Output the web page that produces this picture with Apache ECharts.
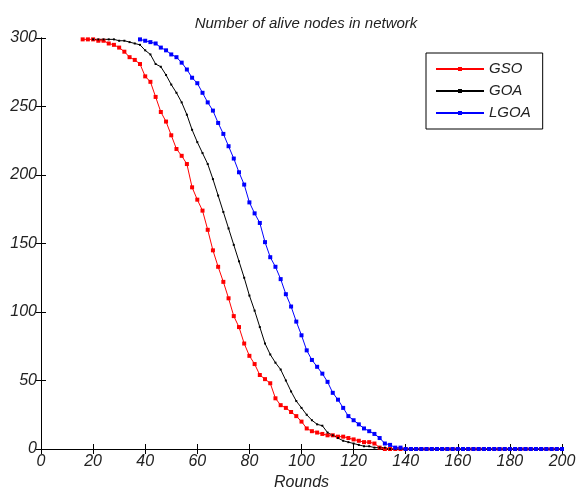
<!DOCTYPE html>
<html>
<head>
<meta charset="utf-8">
<script src="https://cdn.jsdelivr.net/npm/echarts@6/dist/echarts.min.js"></script>
<style>
html, body { margin: 0; padding: 0; background: #fff; }
#container { width: 576px; height: 489px; }
</style>
</head>
<body>
<div id="container"></div>
<script>
// rounds, every 2 rounds
var rounds = [0,2,4,6,8,10,12,14,16,18,20,22,24,26,28,30,32,34,36,38,
  40,42,44,46,48,50,52,54,56,58,60,62,64,66,68,70,72,74,76,78,
  80,82,84,86,88,90,92,94,96,98,100,102,104,106,108,110,112,114,116,118,
  120,122,124,126,128,130,132,134,136,138,140,142,144,146,148,150,152,154,156,158,
  160,162,164,166,168,170,172,174,176,178,180,182,184,186,188,190,192,194,196,198,200];

// alive nodes (null = hidden under the top border at 300)
var gso = [null,null,null,null,null,null,null,null,
  299,299,299,298,298,296,295,293,290,286,284,281,272,268,257,246,239,229,219,214,208,191,
  182,174,160,145,133,122,110,97,89,77,68,62,54,51,48,37,32,30,27,24,
  20,15,13,12,11,10,10,9,9,8,7,6,5,5,4,1,
  0,0,0,0,0,0,0,0,0,0, 0,0,0,0,0,0,0,0,0,0, 0,0,0,0,0,0,0,0,0,0, 0,0,0,0,0];
var goa = [null,null,null,null,null,null,null,null,null,null,
  299,299,299,299,299,298,298,297,296,295,291,288,281,279,273,266,260,253,244,233,
  224,216,208,197,185,173,161,149,137,125,112,101,89,77,69,63,58,50,42,35,
  30,25,21,18,17,12,10,8,6,5,4,3,2,2,1,1,1,
  0,0,0,0,0,0,0,0,0,0, 0,0,0,0,0,0,0,0,0,0, 0,0,0,0,0,0,0,0,0,0, 0,0,0,0];
var lgoa = [null,null,null,null,null,null,null,null,null,null,null,null,null,null,null,null,null,null,null,
  299,298,297,296,293,291,288,286,282,277,271,267,260,253,247,238,230,221,212,202,
  193,180,172,165,151,140,133,124,113,104,93,83,72,65,60,55,49,41,36,30,
  24,21,18,15,13,11,8,4,3,1,1,
  0,0,0,0,0,0,0,0,0,0, 0,0,0,0,0,0,0,0,0,0, 0,0,0,0,0,0,0,0,0,0, 0];

var xTicks = { min: 0, max: 200, interval: 20 };
var yTicks = { min: 0, max: 300, interval: 50 };

function pairs(values) {
    var res = [];
    for (var i = 0; i < rounds.length; i++) {
        if (values[i] !== null && values[i] !== undefined) {
            res.push([rounds[i], values[i]]);
        }
    }
    return res;
}

var dom = document.getElementById("container");
var myChart = echarts.init(dom, null, { renderer: 'canvas' });

var labelStyle = {
    fontFamily: 'Liberation Sans, Arial, sans-serif',
    fontStyle: 'italic',
    fontSize: 16,
    color: '#222'
};
var lineStyleAxis = { color: '#000', width: 1 };

var option = {
    backgroundColor: '#fff',
    animation: false,
    title: {
        text: 'Number of alive nodes in network',
        left: 301,
        top: 11,
        textAlign: 'center',
        textStyle: {
            fontFamily: 'Liberation Sans, Arial, sans-serif',
            fontStyle: 'italic',
            fontWeight: 'normal',
            fontSize: 15,
            color: '#222'
        }
    },
    legend: {
        left: 426,
        top: 53,
        orient: 'vertical',
        backgroundColor: '#fff',
        borderColor: '#000',
        borderWidth: 1,
        borderRadius: 0,
        padding: [8, 12, 8, 9],
        itemWidth: 48,
        itemHeight: 5,
        itemGap: 6,
        textStyle: {
            fontFamily: 'Liberation Sans, Arial, sans-serif',
            fontStyle: 'italic',
            fontSize: 15,
            lineHeight: 16,
            color: '#222'
        },
        data: ['GSO', 'GOA', 'LGOA']
    },
    grid: { left: 41, right: 14, top: 38, bottom: 40, containLabel: false, outerBoundsMode: 'none' },
    xAxis: [{
        type: 'value',
        min: xTicks.min, max: xTicks.max, interval: xTicks.interval,
        name: 'Rounds',
        nameLocation: 'middle',
        nameGap: 25,
        nameTextStyle: labelStyle,
        axisLine: { show: true, lineStyle: lineStyleAxis },
        axisTick: { show: true, inside: true, length: 5, lineStyle: lineStyleAxis },
        axisLabel: Object.assign({ margin: 5 }, labelStyle),
        splitLine: { show: false }
    }, {
        type: 'value', position: 'top',
        min: xTicks.min, max: xTicks.max, interval: xTicks.interval,
        axisLine: { show: true, lineStyle: lineStyleAxis },
        axisTick: { show: true, inside: true, length: 5, lineStyle: lineStyleAxis },
        axisLabel: { show: false },
        splitLine: { show: false }
    }],
    yAxis: [{
        type: 'value',
        min: yTicks.min, max: yTicks.max, interval: yTicks.interval,
        axisLine: { show: true, lineStyle: lineStyleAxis },
        axisTick: { show: true, inside: true, length: 5, lineStyle: lineStyleAxis },
        axisLabel: Object.assign({ margin: 4 }, labelStyle),
        splitLine: { show: false }
    }, {
        type: 'value', position: 'right',
        min: yTicks.min, max: yTicks.max, interval: yTicks.interval,
        axisLine: { show: true, lineStyle: lineStyleAxis },
        axisTick: { show: true, inside: true, length: 5, lineStyle: lineStyleAxis },
        axisLabel: { show: false },
        splitLine: { show: false }
    }],
    series: [
        {
            name: 'GSO',
            type: 'line',
            data: pairs(gso),
            symbol: 'rect',
            symbolSize: 4,
            showAllSymbol: true,
            lineStyle: { color: '#ff0000', width: 1 },
            itemStyle: { color: '#ff0000' }
        },
        {
            name: 'GOA',
            type: 'line',
            data: pairs(goa),
            symbol: 'rect',
            symbolSize: 2,
            showAllSymbol: true,
            lineStyle: { color: '#000000', width: 1 },
            itemStyle: { color: '#000000' }
        },
        {
            name: 'LGOA',
            type: 'line',
            data: pairs(lgoa),
            symbol: 'rect',
            symbolSize: 4,
            showAllSymbol: true,
            lineStyle: { color: '#0000ff', width: 1 },
            itemStyle: { color: '#0000ff' }
        }
    ]
};
myChart.setOption(option, true);
</script>
</body>
</html>
